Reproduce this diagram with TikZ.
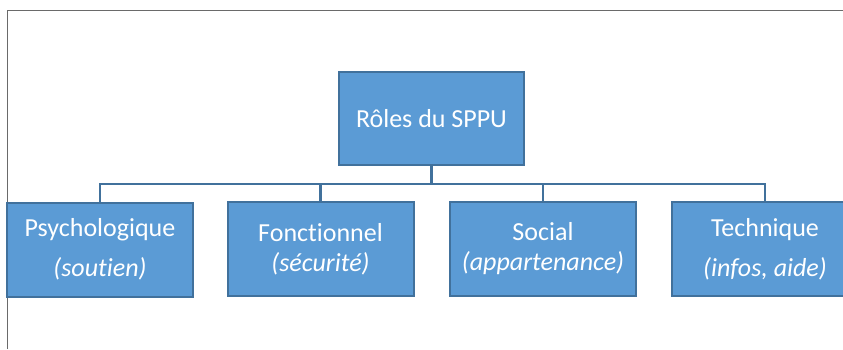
\documentclass[tikz,border=0pt]{standalone}
\usepackage{fontspec}
\setmainfont{Carlito}[Ligatures={NoCommon,NoContextual}]
\definecolor{boxfill}{HTML}{5B9BD5}
\definecolor{boxline}{HTML}{41719C}
\definecolor{framegray}{HTML}{6A6A6A}
\begin{document}
\begin{tikzpicture}[x=1pt,y=-1pt,
  rolebox/.style={draw=boxline, line width=2pt, fill=boxfill, text=white,
    minimum width=186pt, minimum height=94pt, align=center, inner sep=0pt,
    font=\fontsize{26}{30}\selectfont},
  link/.style={draw=boxline, line width=2.5pt}]
\useasboundingbox (0,0) rectangle (843,349);
\clip (0,0) rectangle (843,349);
\fill[white] (0,0) rectangle (843,349);
\draw[framegray, line width=1.8pt] (7.5,349) -- (7.5,10.5) -- (843,10.5);
\node[rolebox, minimum width=185pt, minimum height=93pt] (root) at (431.5,118.5) {Rôles du SPPU};
\coordinate (bar) at (431.5,184);
\node[rolebox] (c1) at (100,249.5) {Psychologique\\[10pt]\textit{(soutien)}};
\node[rolebox] (c2) at (320.5,249) {Fonctionnel\\\textit{(sécurité)}};
\node[rolebox] (c3) at (543,249) {Social\\\textit{(appartenance)}};
\node[rolebox] (c4) at (765,249) {Technique\\[10pt]\textit{(infos, aide)}};
\draw[link] (root.south) -- (bar);
\draw[link] (c1.north) |- (bar);
\draw[link] (c2.north) |- (bar);
\draw[link] (c3.north) |- (bar);
\draw[link] (c4.north) |- (bar);
\end{tikzpicture}
\end{document}
